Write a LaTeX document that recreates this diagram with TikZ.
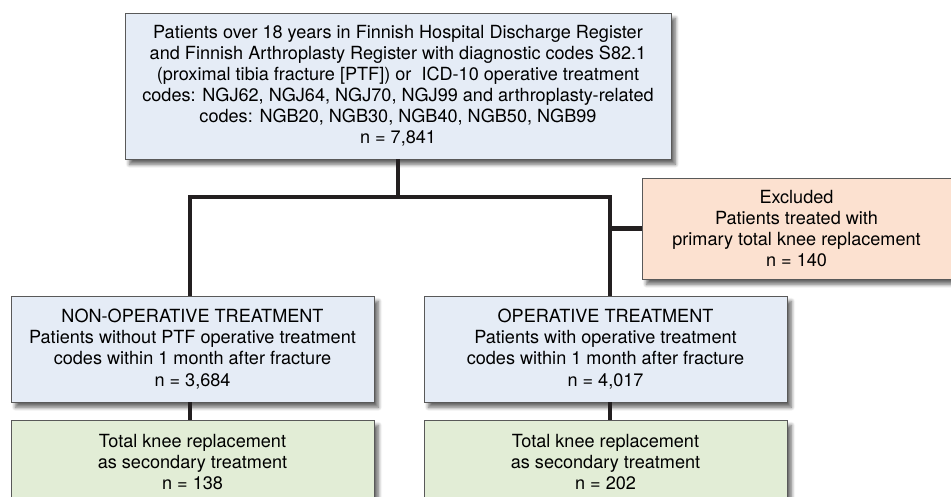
\documentclass[tikz,border=0pt]{standalone}
\usepackage{fontspec}
\setmainfont{TeX Gyre Heros}
\usetikzlibrary{calc,shadows.blur}

\begin{document}
\begin{tikzpicture}[
    box/.style={draw=black!65, line width=0.5pt, align=center, inner sep=0pt,
        font=\fontsize{10.3}{12}\selectfont,
        blur shadow={shadow xshift=2.5pt, shadow yshift=-3pt, shadow blur steps=6, shadow opacity=60}},
    link/.style={draw=linkgray, line width=2.3pt}
]
\definecolor{boxblue}{HTML}{E5ECF6}
\definecolor{boxpeach}{HTML}{FCE1D0}
\definecolor{boxgreen}{HTML}{E2EDD6}
\definecolor{linkgray}{HTML}{231F20}

\useasboundingbox (0,0) rectangle (19.02,-9.94);
\clip (0,0) rectangle (19.02,-9.94);

\node [box, fill=boxblue, minimum width=10.92cm, minimum height=2.92cm] (reg) at (7.96,-1.72)
  {Patients over 18 years in Finnish Hospital Discharge Register\\
   and Finnish Arthroplasty Register with diagnostic codes S82.1\\
   (proximal tibia fracture [PTF]) or\ \ ICD-10 operative treatment\\
   codes: NGJ62, NGJ64, NGJ70, NGJ99 and arthroplasty-related\\
   codes: NGB20, NGB30, NGB40, NGB50, NGB99\\
   n = 7,841};
\node [box, fill=boxpeach, minimum width=6.18cm, minimum height=2.02cm] (excl) at (15.93,-4.57)
  {Excluded\\ Patients treated with\\ primary total knee replacement\\ n = 140};
\node [box, fill=boxblue, minimum width=7.26cm, minimum height=2.12cm] (nonop) at (3.85,-6.98)
  {NON-OPERATIVE TREATMENT\\ Patients without PTF operative treatment\\ codes within 1 month after fracture\\ n = 3,684};
\node [box, fill=boxblue, minimum width=7.26cm, minimum height=2.12cm] (op) at (12.11,-6.98)
  {OPERATIVE TREATMENT\\ Patients with operative treatment\\ codes within 1 month after fracture\\ n = 4,017};
\node [box, fill=boxgreen, minimum width=7.26cm, minimum height=1.68cm] (tknon) at (3.85,-9.24)
  {Total knee replacement\\ as secondary treatment\\ n = 138};
\node [box, fill=boxgreen, minimum width=7.26cm, minimum height=1.68cm] (tkop) at (12.11,-9.24)
  {Total knee replacement\\ as secondary treatment\\ n = 202};

\coordinate (split) at ($(reg.south)+(0,-0.76)$);
\coordinate (lbar) at (3.8,-3.94);
\coordinate (rbar) at (12.2,-3.94);

\draw [link] (reg.south) -- (split);
\draw [link] (nonop.north -| lbar) -- (lbar) -- (rbar) -- (op.north -| rbar);
\draw [link] (excl.west) -- (excl.west -| rbar);
\draw [link] (nonop.south -| lbar) -- (tknon.north -| lbar);
\draw [link] (op.south -| rbar) -- (tkop.north -| rbar);
\end{tikzpicture}
\end{document}
